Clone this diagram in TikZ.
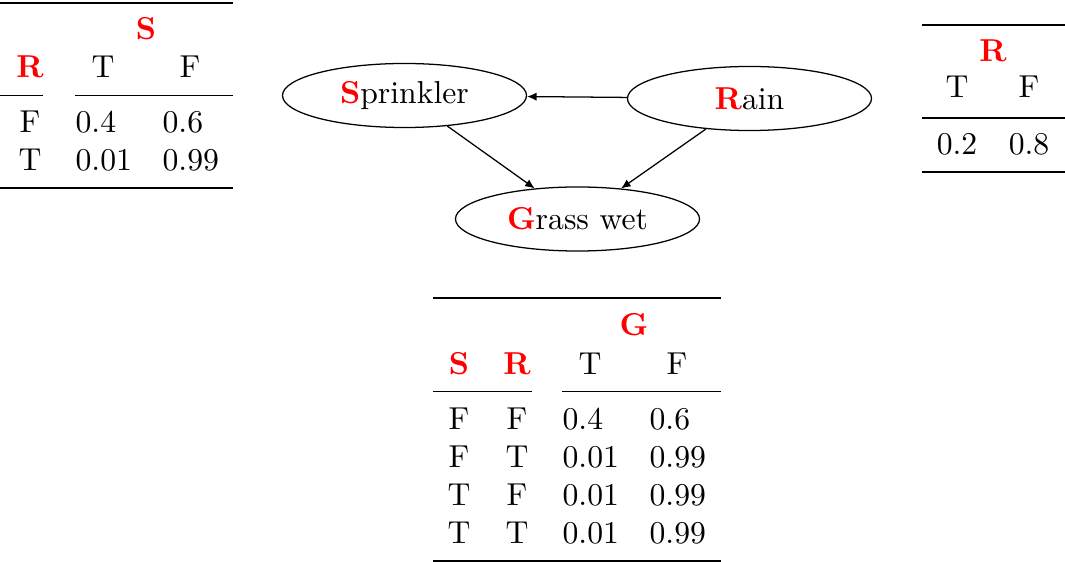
\documentclass[tikz,border=0pt]{standalone}
\usetikzlibrary{arrows.meta,shapes.geometric}
\begin{document}
\begin{tikzpicture}[x=0.3155pt,y=-0.3155pt,
  cell/.style={inner sep=0pt, anchor=base},
  lcell/.style={inner sep=0pt, anchor=base west},
  hdr/.style={inner sep=0pt, anchor=base, text=red, font=\bfseries},
  heavyrule/.style={line width=0.8pt},
  lightrule/.style={line width=0.5pt},
  cmid/.style={line width=0.3pt},
  var/.style={ellipse, draw, line width=0.4pt, minimum width=77pt, minimum height=20.2pt, inner sep=0pt},
  edge/.style={-{Latex[length=3pt,width=2.6pt]}, line width=0.4pt}
]
\useasboundingbox (0,0) rectangle (1065,562);

% ---- Table S ----
\node[hdr] (sT) at (146,40) {S};
\node[hdr] (sR) at (30,78) {R};
\node[cell] (sHT) at (103,78) {T};
\node[cell] (sHF) at (190,78) {F};
\node[cell] (sR1) at (30,133) {F};
\node[lcell] (s11) at (75,133) {0.4};
\node[lcell] (s12) at (162,133) {0.6};
\node[cell] (sR2) at (30,171) {T};
\node[lcell] (s21) at (75,171) {0.01};
\node[lcell] (s22) at (162,171) {0.99};
\draw[heavyrule] (0,3) -- (233,3);
\draw[cmid] (0,95) -- (43,95);
\draw[cmid] (75,95) -- (233,95);
\draw[heavyrule] (0,188) -- (233,188);

% ---- Table R ----
\node[hdr] (rT) at (993,62) {R};
\node[cell] (rHT) at (957,98) {T};
\node[cell] (rHF) at (1029,98) {F};
\node[cell] (r1) at (957,155) {0.2};
\node[cell] (r2) at (1029,155) {0.8};
\draw[heavyrule] (922,25) -- (1065,25);
\draw[lightrule] (922,118) -- (1065,118);
\draw[heavyrule] (922,172) -- (1065,172);

% ---- Table G ----
\node[hdr] (gT) at (634,336) {G};
\node[hdr] (gHS) at (459,375) {S};
\node[hdr] (gHR) at (517,375) {R};
\node[cell] (gHT) at (590,375) {T};
\node[cell] (gHF) at (677,375) {F};
\node[cell] (gS1) at (459,430) {F};
\node[cell] (gR1) at (517,430) {F};
\node[lcell] (gT1) at (562,430) {0.4};
\node[lcell] (gF1) at (649,430) {0.6};
\node[cell] (gS2) at (459,468) {F};
\node[cell] (gR2) at (517,468) {T};
\node[lcell] (gT2) at (562,468) {0.01};
\node[lcell] (gF2) at (649,468) {0.99};
\node[cell] (gS3) at (459,506) {T};
\node[cell] (gR3) at (517,506) {F};
\node[lcell] (gT3) at (562,506) {0.01};
\node[lcell] (gF3) at (649,506) {0.99};
\node[cell] (gS4) at (459,544) {T};
\node[cell] (gR4) at (517,544) {T};
\node[lcell] (gT4) at (562,544) {0.01};
\node[lcell] (gF4) at (649,544) {0.99};
\draw[heavyrule] (433,298) -- (721,298);
\draw[cmid] (433,391) -- (532,391);
\draw[cmid] (562,391) -- (721,391);
\draw[heavyrule] (433,561) -- (721,561);

% ---- Graph ----
\node[var] (spr) at (404.5,95.5) {\textcolor{red}{\textbf{S}}prinkler};
\node[var] (rain) at (749.5,98.5) {\textcolor{red}{\textbf{R}}ain};
\node[var] (grass) at (577.5,219) {\textcolor{red}{\textbf{G}}rass wet};
\draw[edge] (rain) -- (spr);
\draw[edge] (spr) -- (grass);
\draw[edge] (rain) -- (grass);
\end{tikzpicture}
\end{document}
